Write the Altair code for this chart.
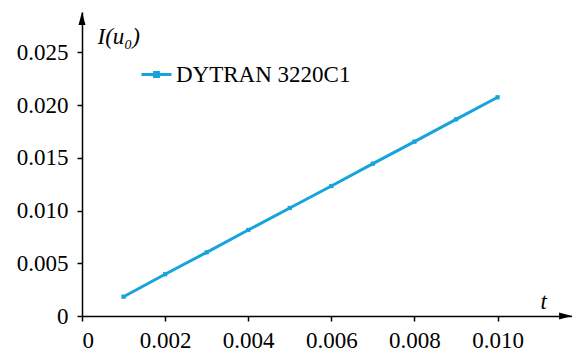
import altair as alt
import pandas as pd

# Measured response of the DYTRAN 3220C1 sensor
t_values = [0.001, 0.002, 0.003, 0.004, 0.005, 0.006, 0.007, 0.008, 0.009, 0.010]
i_values = [0.00183, 0.00396, 0.00604, 0.00816, 0.01025, 0.01233, 0.01445, 0.01654, 0.01866, 0.02075]
series_name = "DYTRAN 3220C1"

x_ticks = [0, 0.002, 0.004, 0.006, 0.008, 0.010]
y_ticks = [0, 0.005, 0.010, 0.015, 0.020, 0.025]
X_MAX = 0.01179
Y_MAX = 0.02884

LINE_COLOR = "#18a3dd"
FONT = "Liberation Serif"
FS = 23

df = pd.DataFrame({"t": t_values, "I": i_values, "series": series_name})

label_expr = "datum.value == 0 ? '0' : format(datum.value, '.3f')"

x_enc = alt.X(
    "t:Q",
    scale=alt.Scale(domain=[0, X_MAX], nice=False, zero=True),
    axis=alt.Axis(
        values=x_ticks, labelExpr=label_expr, title="t",
        titleFontStyle="italic", titleFont=FONT, titleFontSize=FS, titleFontWeight="normal",
        titleAngle=0, titleAlign="left", titleBaseline="alphabetic",
        titleX=458, titleY=-8,
        tickSize=5, labelPadding=8, grid=False,
        labelFont=FONT,
    ),
)
y_enc = alt.Y(
    "I:Q",
    scale=alt.Scale(domain=[0, Y_MAX], nice=False, zero=True),
    axis=alt.Axis(
        values=y_ticks, labelExpr=label_expr, title="I(u₀)",
        titleFontStyle="italic", titleFont=FONT, titleFontSize=FS, titleFontWeight="normal",
        titleAngle=0, titleAlign="left", titleBaseline="alphabetic",
        titleX=15, titleY=31,
        tickSize=5, labelPadding=9, grid=False,
        labelFont=FONT,
    ),
)

line = alt.Chart(df).mark_line(
    strokeWidth=3,
    point=alt.OverlayMarkDef(shape="square", size=18, filled=True, color=LINE_COLOR),
).encode(
    x=x_enc,
    y=y_enc,
    color=alt.Color(
        "series:N",
        scale=alt.Scale(range=[LINE_COLOR]),
        legend=alt.Legend(
            title=None, orient="none", legendX=58, legendY=46,
            symbolType="M-1,0L1,0M-0.13,-0.13L0.13,-0.13L0.13,0.13L-0.13,0.13Z",
            symbolSize=900, symbolStrokeWidth=3, symbolFillColor=LINE_COLOR,
            symbolStrokeColor=LINE_COLOR,
            labelFont=FONT, labelFontSize=FS, labelColor="black", labelOffset=3,
            labelLimit=400, padding=0,
        ),
    ),
)

# Arrowheads at the ends of both axes
arrows = pd.DataFrame({
    "t": [0, X_MAX],
    "I": [Y_MAX, 0],
    "dir": ["up", "right"],
})
arrow_up = alt.Chart(arrows[arrows.dir == "up"]).mark_point(
    shape="M0,0L-0.5,1.85L0.5,1.85Z", size=196, filled=True, color="black", opacity=1
).encode(x="t:Q", y="I:Q")
arrow_right = alt.Chart(arrows[arrows.dir == "right"]).mark_point(
    shape="M0,0L-1.85,-0.5L-1.85,0.5Z", size=196, filled=True, color="black", opacity=1
).encode(x="t:Q", y="I:Q")

chart = alt.layer(line, arrow_up, arrow_right).properties(
    width=490, height=304,
    padding={"left": 82, "top": 12, "right": 0, "bottom": 38},
    autosize=alt.AutoSizeParams(type="none"),
    background="white",
).configure(font=FONT).configure_view(stroke=None).configure_axis(
    domainColor="black", domainWidth=1.5, tickColor="black", tickWidth=1.5,
    labelFont=FONT, labelFontSize=FS, labelColor="black", titleColor="black",
)

chart.save("out.html", embed_options={"renderer": "svg", "actions": False})
